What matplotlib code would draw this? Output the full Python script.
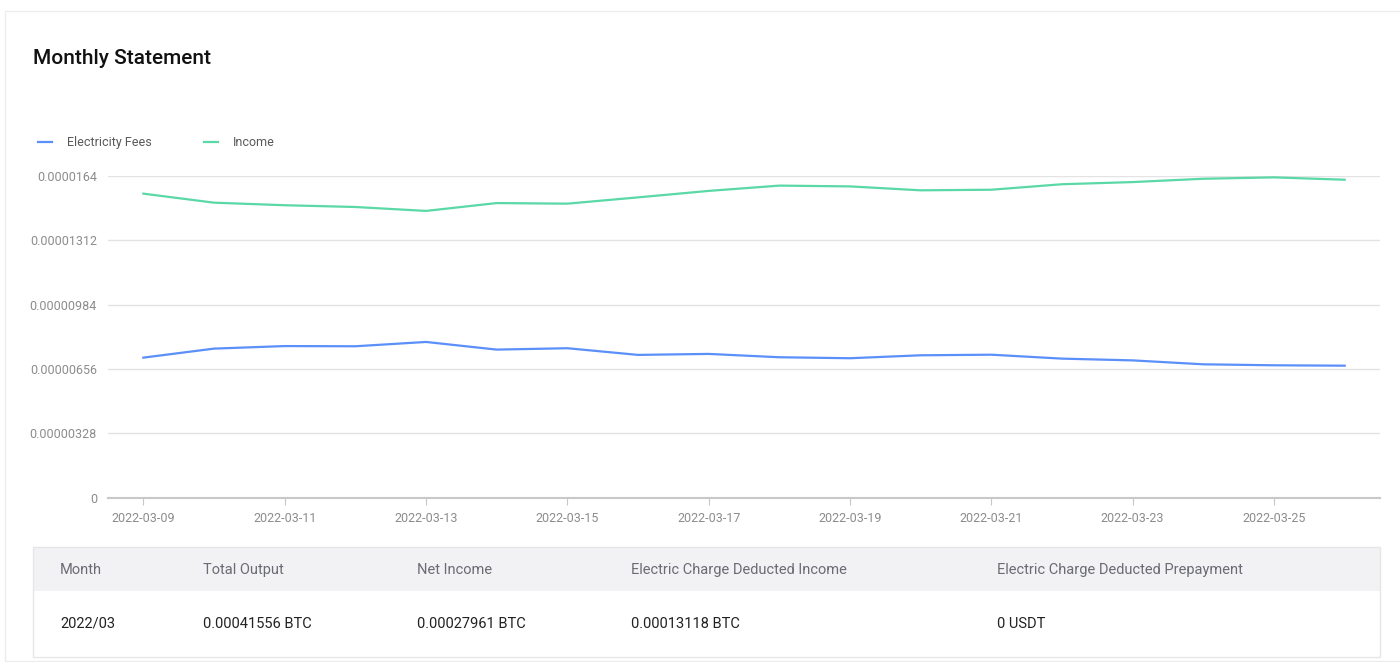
import matplotlib.pyplot as plt
from matplotlib.patches import Rectangle

plt.rcParams['font.family'] = ['Roboto', 'DejaVu Sans']

# dati del grafico
dates = ['2022-03-09', '2022-03-10', '2022-03-11', '2022-03-12', '2022-03-13', '2022-03-14',
         '2022-03-15', '2022-03-16', '2022-03-17', '2022-03-18', '2022-03-19', '2022-03-20',
         '2022-03-21', '2022-03-22', '2022-03-23', '2022-03-24', '2022-03-25', '2022-03-26']
electricity_fees = [7.14, 7.60, 7.73, 7.72, 7.94, 7.55, 7.62, 7.28, 7.33,
                    7.16, 7.11, 7.26, 7.29, 7.09, 7.00, 6.80, 6.75, 6.73]  # e-6
income = [15.50, 15.04, 14.91, 14.82, 14.62, 15.02, 14.99, 15.31, 15.64,
          15.91, 15.87, 15.67, 15.70, 15.98, 16.09, 16.26, 16.33, 16.21]  # e-6
y_ticks = [0, 0.00000328, 0.00000656, 0.00000984, 0.00001312, 0.0000164]
y_tick_labels = ['0', '0.00000328', '0.00000656', '0.00000984', '0.00001312', '0.0000164']

table_header = ['Month', 'Total Output', 'Net Income', 'Electric Charge Deducted Income',
                'Electric Charge Deducted Prepayment']
table_row = ['2022/03', '0.00041556 BTC', '0.00027961 BTC', '0.00013118 BTC', '0 USDT']

W, H = 1400, 662
fig = plt.figure(figsize=(W / 100, H / 100), dpi=100)

def fx(px):
    return px / W

def fy(py):
    return 1 - py / H

# cornice della card (sotto a tutto)
fig.add_artist(Rectangle((fx(5), fy(661)), fx(1400), fy(11) - fy(661), transform=fig.transFigure,
                         facecolor='white', edgecolor='#ececec', linewidth=1, zorder=-10))

fig.text(fx(33), fy(58), 'Monthly Statement', fontsize=15, fontweight='medium',
         color='#111111', va='center', ha='left')

# grafico
ax = fig.add_axes([fx(108), fy(497.7), fx(1380) - fx(108), fy(176) - fy(497.7)])
ax.patch.set_alpha(0)
x = list(range(len(dates)))
ax.plot(x, [v * 1e-6 for v in electricity_fees], color='#5b8ff9', linewidth=1.6, label='Electricity Fees')
ax.plot(x, [v * 1e-6 for v in income], color='#5ad8a6', linewidth=1.6, label='Income')
ax.set_xlim(-0.5, len(dates) - 0.5)
ax.set_ylim(0, 0.0000164)
ax.set_yticks(y_ticks)
ax.set_yticklabels(y_tick_labels)
ax.set_xticks(x[::2])
ax.set_xticklabels(dates[::2])
ax.grid(axis='y', color='#e3e3e3', linewidth=1)
ax.set_axisbelow(True)
for s in ['top', 'right', 'left']:
    ax.spines[s].set_visible(False)
ax.spines['bottom'].set_color('#c8c8c8')
ax.spines['bottom'].set_linewidth(1.5)
ax.tick_params(axis='y', length=0, pad=8, labelsize=9, labelcolor='#8c8c8c')
ax.tick_params(axis='x', length=5, color='#c8c8c8', pad=5, labelsize=9, labelcolor='#8c8c8c')

fig.legend(loc='upper left', bbox_to_anchor=(fx(38), fy(136)), ncol=2, frameon=False,
           borderpad=0, borderaxespad=0, handlelength=1.1, handletextpad=1.2,
           columnspacing=4.2, fontsize=9, labelcolor='#595959')

# tabella riepilogo
fig.add_artist(Rectangle((fx(33), fy(591)), fx(1380) - fx(33), fy(547) - fy(591),
                         transform=fig.transFigure, facecolor='#f2f2f4', edgecolor='none'))
fig.add_artist(Rectangle((fx(33), fy(657)), fx(1380) - fx(33), fy(547) - fy(657),
                         transform=fig.transFigure, facecolor='none', edgecolor='#e6e6e6', linewidth=1))
col_x = [60, 203, 417, 631, 997]
for cx, h, v in zip(col_x, table_header, table_row):
    fig.text(fx(cx), fy(570), h, fontsize=10.5, color='#6b6b75', va='center', ha='left')
    fig.text(fx(cx), fy(624), v, fontsize=10.5, color='#222222', va='center', ha='left')

fig.savefig('out.png', dpi=100)
